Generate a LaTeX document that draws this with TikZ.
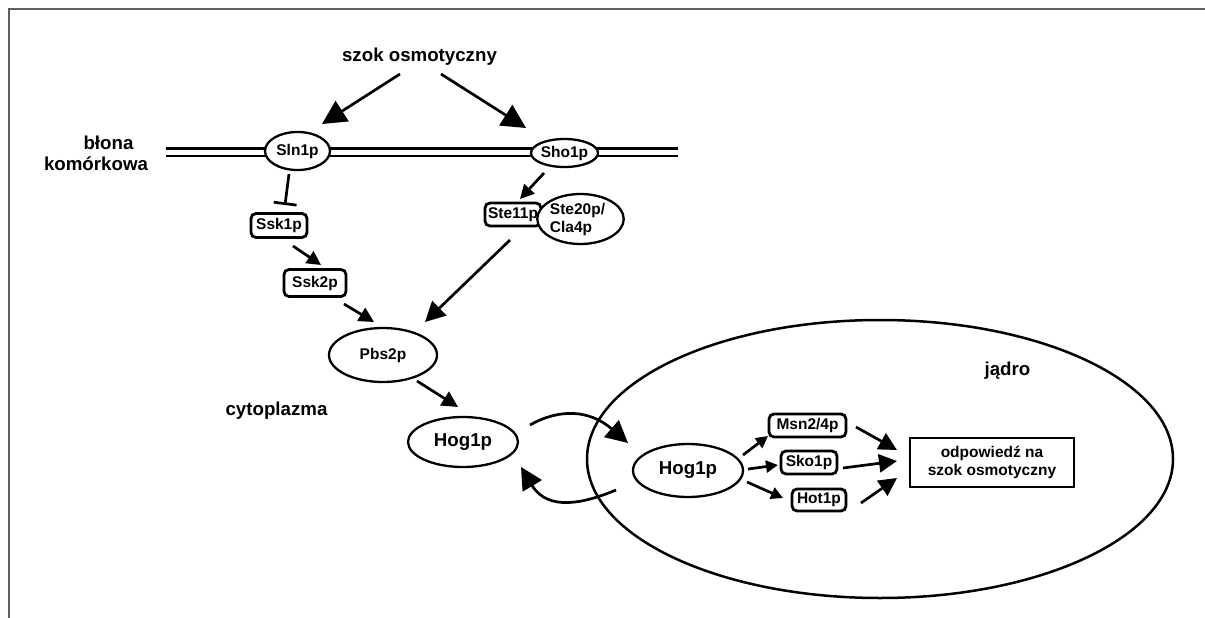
\documentclass[tikz,border=0pt]{standalone}
\usepackage{fontspec}
\setmainfont{Liberation Sans}
\usetikzlibrary{arrows.meta,shapes.geometric,calc}
\definecolor{borderc}{HTML}{5F5F5F}
\begin{document}
\begin{tikzpicture}[x=1pt,y=-1pt,
  big/.style={font=\fontsize{18.7}{22}\selectfont\bfseries},
  small/.style={font=\fontsize{15.5}{18}\selectfont\bfseries},
  prot/.style={small, draw, line width=2.8pt, rounded corners=5pt, inner sep=0pt, fill=white},
  oval/.style={ellipse, draw, line width=2.3pt, fill=white, inner sep=0pt},
  conn/.style={line width=2.7pt},
  arr/.style={conn,-{Triangle[length=#1pt,width=#1pt]}}]
\useasboundingbox (0,0) rectangle (1205,618);
% frame
\draw[line width=2pt, borderc] (8.5,618) -- (8.5,9.5) -- (1205,9.5);
% membrane
\draw[line width=2.6pt] (166,148.3) -- (678,148.3) (166,156) -- (678,156);
% nucleus
\node[ellipse, draw, line width=2.5pt, minimum width=586pt, minimum height=278pt, inner sep=0pt] (nuc) at (880,459) {};
% labels
\node[big] (szok) at (419.5,57) {szok osmotyczny};
\node[big] (blona) at (108.5,143) {błona};
\node[big] (komork) at (96,164) {komórkowa};
\node[big] (cyto) at (276.5,411) {cytoplazma};
\node[big] (jadro) at (1007.5,371) {jądro};
% proteins
\node[oval, small, minimum width=65pt, minimum height=38pt] (sln) at (297.5,151) {Sln1p};
\node[oval, small, minimum width=65pt, minimum height=28pt] (sho) at (564.5,153) {Sho1p};
\node[prot, minimum width=56pt, minimum height=24pt] (ssk1) at (279,225.5) {Ssk1p};
\node[prot, minimum width=62pt, minimum height=27pt] (ssk2) at (315,283) {Ssk2p};
\node[prot, minimum width=56pt, minimum height=23pt] (ste11) at (513,214.5) {Ste11p};
\node[oval, small, minimum width=71pt, minimum height=50pt, align=left] (ste20) at (580.5,219) {Ste20p/\hspace*{6pt}\\Cla4p};
\node[oval, small, minimum width=108pt, minimum height=54pt] (pbs) at (383,355) {Pbs2p};
\node[oval, big, minimum width=110pt, minimum height=50pt] (hogc) at (463,442) {Hog1p};
\node[oval, big, minimum width=110pt, minimum height=53pt] (hogn) at (688,470.5) {Hog1p};
\node[prot, minimum width=77pt, minimum height=23pt] (msn) at (807.5,425.5) {Msn2/4p};
\node[prot, minimum width=56pt, minimum height=23pt] (sko) at (809,462.5) {Sko1p};
\node[prot, minimum width=54pt, minimum height=22pt] (hot) at (819,500) {Hot1p};
\node[draw, line width=2.4pt, small, minimum width=164pt, minimum height=49pt, align=center, inner sep=0pt] (odp) at (992,462.5) {odpowiedź na\\szok osmotyczny};
% connectors
\draw[arr=24] ($(szok)+(-19.5,17)$) -- ($(sln)+(24.5,-27)$);
\draw[arr=24] ($(szok)+(21.5,17)$) -- ($(sho)+(-38.5,-25)$);
\draw[conn,-{Bar[width=23pt]}] ($(sln)+(-8.5,23)$) -- ($(ssk1)+(6,-20.5)$);
\draw[arr=14] ($(sho)+(-20.5,20)$) -- ($(ste11)+(7,-15.5)$);
\draw[arr=14] ($(ssk1)+(14,20.5)$) -- ($(ssk2)+(6,-18)$);
\draw[arr=15] ($(ssk2)+(29,21)$) -- ($(pbs)+(-9,-33)$);
\draw[arr=20] ($(ste11)+(-3,25.5)$) -- ($(pbs)+(42,-33)$);
\draw[arr=16] ($(pbs)+(34,26)$) -- ($(hogc)+(-5,-35)$);
\draw[arr=22] ($(hogc)+(67,-17)$) .. controls +(30,-17) and +(-38,-33) .. ($(hogn)+(-60,-27.5)$);
\draw[arr=22] ($(hogn)+(-72,19.5)$) .. controls +(-31,13) and +(27,45) .. ($(hogc)+(58,25)$);
\draw[arr=12] ($(hogn)+(55,-15.5)$) -- ($(msn)+(-39.5,10.5)$);
\draw[arr=12] ($(hogn)+(60,-1.5)$) -- ($(sko)+(-31,2.5)$);
\draw[arr=12] ($(hogn)+(59,11.5)$) -- ($(hot)+(-36,-2)$);
\draw[arr=18] ($(msn)+(48.5,1.5)$) -- ($(odp)+(-95,-12.5)$);
\draw[arr=18] ($(sko)+(34,5.5)$) -- ($(odp)+(-95,-1.5)$);
\draw[arr=18] ($(hot)+(42,3)$) -- ($(odp)+(-95,15.5)$);
\end{tikzpicture}
\end{document}
